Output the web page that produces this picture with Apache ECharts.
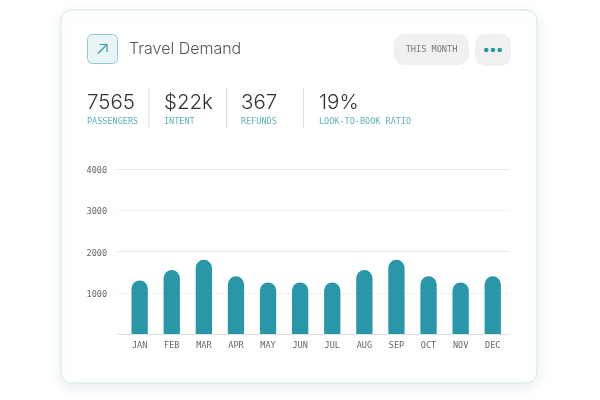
<!DOCTYPE html>
<html><head><meta charset="utf-8">
<style>html,body{margin:0;padding:0;background:#fff}#c{width:600px;height:400px}</style>
<script src="https://cdn.jsdelivr.net/npm/echarts@6/dist/echarts.min.js"></script>
</head><body><div id="c"></div>
<script>
var categories=['JAN','FEB','MAR','APR','MAY','JUN','JUL','AUG','SEP','OCT','NOV','DEC'];
var demand=[1300,1550,1800,1400,1250,1250,1250,1550,1800,1400,1250,1400];
var yTicks=[0,1000,2000,3000,4000];
var statValues=['7565','$22k','367','19%'];
var statLabels=['PASSENGERS','INTENT','REFUNDS','LOOK-TO-BOOK RATIO'];
var titleText='Travel Demand';
var rangeText='THIS MONTH';

var TEAL='#2a97a8', MONO='"DejaVu Sans Mono",monospace', SANS='Inter,sans-serif';
var statX=[87,164,241,319], dividerX=[149,226.5,303.5];
var g=[
 {type:'rect',z:0,shape:{x:61,y:10,width:476,height:373,r:11},
  style:{fill:'#fff',stroke:'#d3e4e9',lineWidth:1,shadowBlur:14,shadowColor:'rgba(60,120,140,0.13)',shadowOffsetY:4}},
 {type:'rect',z:1,shape:{x:87.5,y:34.5,width:30,height:29,r:5},style:{fill:'#e8f4f6',stroke:'#8fc8d0',lineWidth:1}},
 {type:'polyline',z:2,shape:{points:[[98,53.5],[107,44.5]]},style:{stroke:'#3f98a8',lineWidth:1.2,fill:null}},
 {type:'polyline',z:2,shape:{points:[[99.5,44.5],[107,44.5],[107,52]]},style:{stroke:'#3f98a8',lineWidth:1.2,fill:null}},
 {type:'text',z:2,x:129,y:49,style:{text:titleText,font:'300 16px '+SANS,fill:'#555',textVerticalAlign:'middle'}},
 {type:'rect',z:1,shape:{x:394,y:34,width:75,height:31,r:10},style:{fill:'#f0f0f0'}},
 {type:'rect',z:1,shape:{x:475,y:34,width:36,height:32,r:10},style:{fill:'#f0f0f0'}},
 {type:'text',z:2,x:431.5,y:50,style:{text:rangeText,font:'8.6px '+MONO,fill:'#777',textAlign:'center',textVerticalAlign:'middle'}}
];
[486.3,493,499.7].forEach(function(x){g.push({type:'circle',z:2,shape:{cx:x,cy:50,r:2.3},style:{fill:TEAL}});});
dividerX.forEach(function(x){g.push({type:'line',z:1,shape:{x1:x,y1:88,x2:x,y2:128},style:{stroke:'#dcdfe0',lineWidth:1}});});
statValues.forEach(function(v,i){
 g.push({type:'text',z:2,x:statX[i],y:102.5,style:{text:v,font:'300 20.5px '+SANS,fill:'#333',textVerticalAlign:'middle'}});
 g.push({type:'text',z:2,x:statX[i],y:121.5,style:{text:statLabels[i],font:'8.5px '+MONO,fill:'#5fb0bd',textVerticalAlign:'middle'}});
});
var chart=echarts.init(document.getElementById('c'),null,{renderer:'canvas'});
chart.setOption({
 animation:false,
 graphic:{elements:g},
 grid:[
  {left:117,right:91,top:169,height:165},
  {left:123.6,right:91.2,top:169,height:165}
 ],
 xAxis:[
  {gridIndex:0,type:'value',min:0,max:1,show:true,axisLabel:{show:false},axisTick:{show:false},splitLine:{show:false},
   axisLine:{show:true,onZero:false,lineStyle:{color:'#dfe3e4',width:1}}},
  {gridIndex:1,type:'category',data:categories,axisLine:{show:false},axisTick:{show:false},
   axisLabel:{margin:7,color:'#666',fontFamily:MONO,fontSize:8.5}}
 ],
 yAxis:[
  {gridIndex:0,type:'value',min:yTicks[0],max:yTicks[4],interval:1000,axisLine:{show:false},axisTick:{show:false},
   axisLabel:{margin:10,verticalAlign:'middle',
    rich:{t:{color:'#666',fontFamily:MONO,fontSize:8.5,padding:[4,0,0,0]}},
    formatter:function(v){return v===0?'':'{t|'+v+'}';}},
   splitLine:{show:true,lineStyle:{color:['#e2e6e7','#f0f2f2','#e2e6e7','#f0f2f2','#e2e6e7'],width:1}}},
  {gridIndex:1,type:'value',min:yTicks[0],max:yTicks[4],interval:1000,show:false}
 ],
 series:[{type:'bar',xAxisIndex:1,yAxisIndex:1,data:demand,barWidth:16.3,z:3,
  itemStyle:{color:TEAL,borderRadius:[8.15,8.15,0,0]}}]
});
</script></body></html>
